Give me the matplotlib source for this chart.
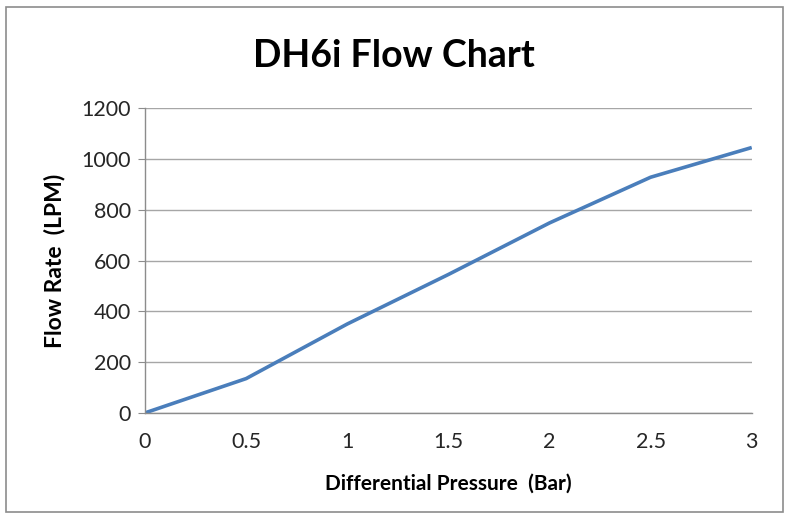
import matplotlib
matplotlib.use("Agg")
import matplotlib.pyplot as plt
from matplotlib.patches import Rectangle

# values
pressure = [0, 0.5, 1, 1.5, 2, 2.5, 3]
flow = [0, 135, 350, 545, 748, 928, 1045]
xticks = [0, 0.5, 1, 1.5, 2, 2.5, 3]
xtick_labels = ['0', '0.5', '1', '1.5', '2', '2.5', '3']
yticks = [0, 200, 400, 600, 800, 1000, 1200]

plt.rcParams['font.family'] = ['Lato', 'DejaVu Sans']

fig = plt.figure(figsize=(7.88, 5.2), dpi=100)
fig.add_artist(Rectangle((0.008, 0.015), 0.986, 0.972, transform=fig.transFigure,
                         fill=False, edgecolor='#8c8c8c', linewidth=1.2))

ax = fig.add_axes([0.184, 0.206, 0.770, 0.586])
ax.plot(pressure, flow, color='#4a7ebb', linewidth=2.6, solid_capstyle='butt')

ax.set_xlim(0, 3)
ax.set_ylim(0, 1200)
ax.set_xticks(xticks)
ax.set_xticklabels(xtick_labels)
ax.set_yticks(yticks)
ax.yaxis.grid(True, color='#a6a6a6', linewidth=1.0)
ax.set_axisbelow(True)

for side in ['top', 'right']:
    ax.spines[side].set_visible(False)
for side in ['left', 'bottom']:
    ax.spines[side].set_color('#8c8c8c')
    ax.spines[side].set_linewidth(1.0)

ax.tick_params(axis='y', length=5, color='#8c8c8c', labelsize=15.5, pad=5, labelcolor='#262626')
ax.tick_params(axis='x', length=0, labelsize=15.5, pad=14, labelcolor='#262626')

ax.set_xlabel('Differential Pressure  (Bar)', fontsize=15, fontweight='bold', labelpad=15)
ax.set_ylabel('Flow Rate  (LPM)', fontsize=16.5, fontweight='bold', labelpad=12)

fig.text(0.5, 0.893, 'DH6i Flow Chart', ha='center', va='center',
         fontsize=27, fontweight='bold')

fig.savefig('out.png', dpi=100)
